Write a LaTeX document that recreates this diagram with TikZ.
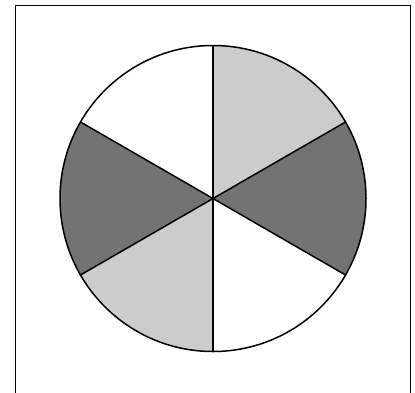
\documentclass[tikz,border=0pt]{standalone}
\usetikzlibrary{calc}
\begin{document}
\begin{tikzpicture}[x=1pt,y=-1pt,
  light/.style={fill=black!20},
  dark/.style={fill=black!55},
  edge/.style={line width=1.5pt, line join=round},
  frame/.style={line width=0.9pt}]
\useasboundingbox (0,0) rectangle (415,392);
\coordinate (c) at (213,198.5);
\def\R{153}
\coordinate (p90) at ($(c)+(0,-\R)$);
\coordinate (p270) at ($(c)+(0,\R)$);
\coordinate (p30) at ($(c)+({\R*cos(30)},{-\R*sin(30)})$);
\coordinate (p210) at ($(c)+({-\R*cos(30)},{\R*sin(30)})$);
\coordinate (p150) at ($(c)+({-\R*cos(30)},{-\R*sin(30)})$);
\coordinate (p330) at ($(c)+({\R*cos(30)},{\R*sin(30)})$);
\begin{scope}
\clip (c) circle[radius=\R];
\fill[light] (c) -- ($(c)!3!(p90)$) -- ($(c)!3!(p30)$) -- cycle;
\fill[dark] (c) -- ($(c)!3!(p30)$) -- ($(c)!3!(p330)$) -- cycle;
\fill[light] (c) -- ($(c)!3!(p270)$) -- ($(c)!3!(p210)$) -- cycle;
\fill[dark] (c) -- ($(c)!3!(p210)$) -- ($(c)!3!(p150)$) -- cycle;
\end{scope}
\draw[edge] (c) circle[radius=\R];
\draw[edge] (p90) -- (p270);
\draw[edge] (p30) -- (p210);
\draw[edge] (p150) -- (p330);
\coordinate (fbl) at (15,393);
\coordinate (ftl) at (15,5);
\coordinate (ftr) at (410.5,5);
\coordinate (fbr) at (410.5,393);
\draw[frame] (fbl) -- (ftl) -- (ftr) -- (fbr);
\end{tikzpicture}
\end{document}
